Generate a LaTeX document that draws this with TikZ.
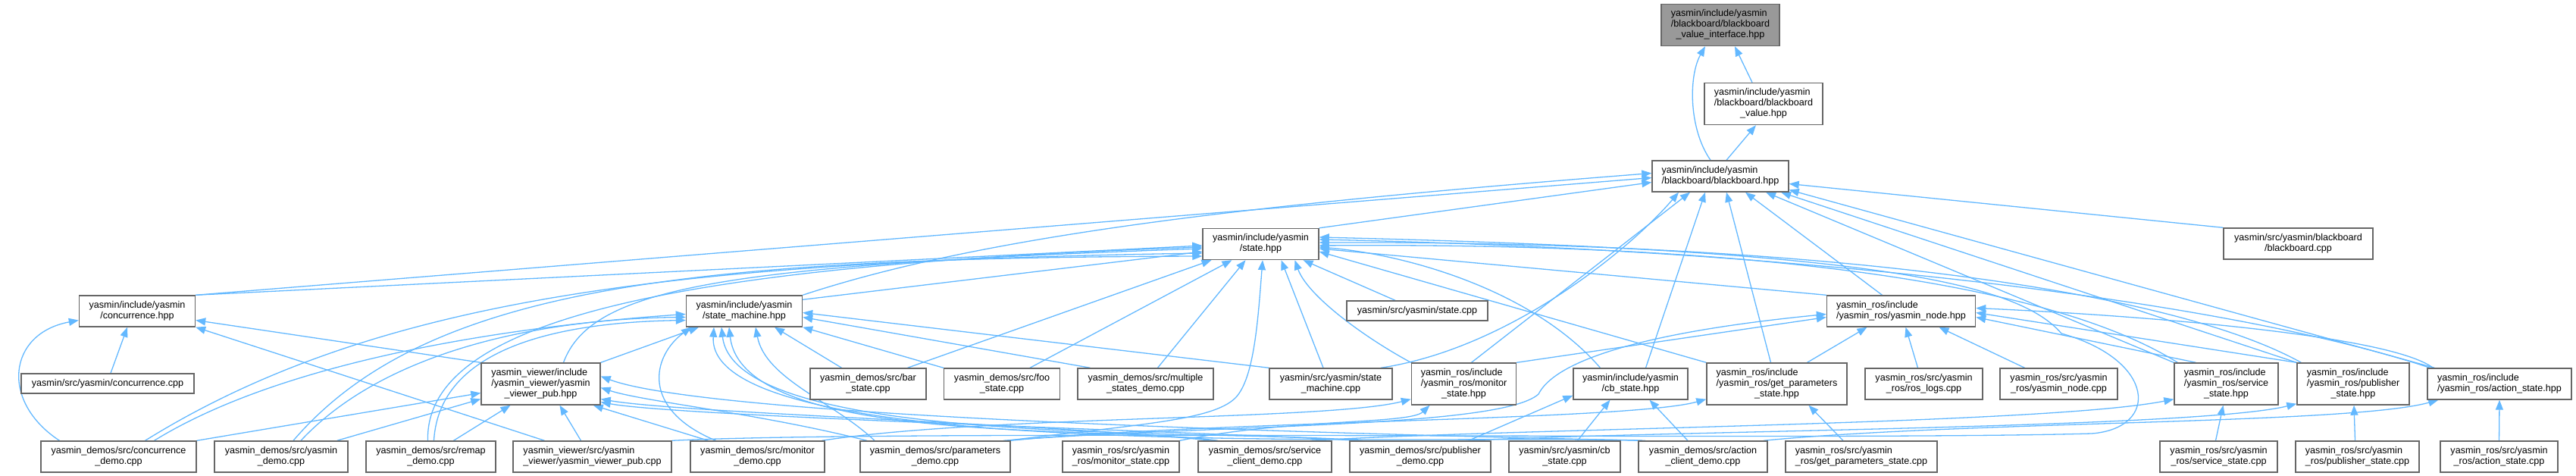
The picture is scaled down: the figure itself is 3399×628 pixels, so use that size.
\documentclass[tikz,border=0pt]{standalone}
\usepackage{fontspec}
\usetikzlibrary{arrows.meta}
\newfontfamily\lbfont{Liberation Sans}
\definecolor{edgec}{HTML}{63B8FF}
\definecolor{bord}{HTML}{666666}
\definecolor{rootf}{HTML}{999999}
\pgfdeclarelayer{bg}
\pgfsetlayers{bg,main}
\newcommand\Lb[2]{\begin{tabular}{@{}l@{}}#1\\\multicolumn{1}{@{}c@{}}{#2}\end{tabular}}
\newcommand\Lc[3]{\begin{tabular}{@{}l@{}}#1\\#2\\\multicolumn{1}{@{}c@{}}{#3}\end{tabular}}
\begin{document}
\begin{tikzpicture}[x=1pt,y=1pt,
  nd/.style={draw=bord, fill=white, line width=1.4pt, inner sep=0pt, font=\lbfont\fontsize{12.6}{14}\selectfont},
  h1/.style={minimum height=26pt},
  h2/.style={minimum height=41pt},
  h3/.style={minimum height=55pt},
  e/.style={draw=edgec, line width=1.3pt, -{Triangle[length=13pt,width=10pt]}}]
\useasboundingbox (0,0) rectangle (3399,-628);
% rank 0-3
\node[nd,h3,fill=rootf,minimum width=156pt] (A) at (2270,-33) {\Lc{yasmin/include/yasmin}{/blackboard/blackboard}{\_value\_interface.hpp}};
\node[nd,h3,minimum width=156pt] (B) at (2327,-137) {\Lc{yasmin/include/yasmin}{/blackboard/blackboard}{\_value.hpp}};
\node[nd,h2,minimum width=180pt] (C) at (2270,-232.5) {\Lb{yasmin/include/yasmin}{/blackboard/blackboard.hpp}};
\node[nd,h2,minimum width=153pt] (D) at (1663.5,-322) {\Lb{yasmin/include/yasmin}{/state.hpp}};
\node[nd,h2,minimum width=197pt] (E) at (3032.5,-321.5) {\Lb{yasmin/src/yasmin/blackboard}{/blackboard.cpp}};
% rank 4
\node[nd,h2,minimum width=153pt] (F) at (181,-410.5) {\Lb{yasmin/include/yasmin}{/concurrence.hpp}};
\node[nd,h2,minimum width=153pt] (G) at (982,-410.5) {\Lb{yasmin/include/yasmin}{/state\_machine.hpp}};
\node[nd,h1,minimum width=186pt] (H) at (1870,-410) {yasmin/src/yasmin/state.cpp};
\node[nd,h2,minimum width=196pt] (I) at (2508.5,-410.5) {\Lb{yasmin\_ros/include}{/yasmin\_ros/yasmin\_node.hpp}};
% rank 5
\node[nd,h1,minimum width=228pt] (J) at (142,-506) {yasmin/src/yasmin/concurrence.cpp};
\node[nd,h3,minimum width=157pt] (K) at (713.5,-506.5) {\Lc{yasmin\_viewer/include}{/yasmin\_viewer/yasmin}{\_viewer\_pub.hpp}};
\node[nd,h2,minimum width=153pt] (L) at (1145.5,-506.5) {\Lb{yasmin\_demos/src/bar}{\_state.cpp}};
\node[nd,h2,minimum width=153pt] (M) at (1322,-506.5) {\Lb{yasmin\_demos/src/foo}{\_state.cpp}};
\node[nd,h2,minimum width=179pt] (N) at (1511.5,-506.5) {\Lb{yasmin\_demos/src/multiple}{\_states\_demo.cpp}};
\node[nd,h2,minimum width=162pt] (O) at (1756,-506.5) {\Lb{yasmin/src/yasmin/state}{\_machine.cpp}};
\node[nd,h3,minimum width=138pt] (P) at (1931.5,-506.5) {\Lc{yasmin\_ros/include}{/yasmin\_ros/monitor}{\_state.hpp}};
\node[nd,h2,minimum width=151pt] (Q) at (2151.5,-506.5) {\Lb{yasmin/include/yasmin}{/cb\_state.hpp}};
\node[nd,h3,minimum width=185pt] (R) at (2344.5,-506.5) {\Lc{yasmin\_ros/include}{/yasmin\_ros/get\_parameters}{\_state.hpp}};
\node[nd,h2,minimum width=155pt] (S) at (2538.5,-506.5) {\Lb{yasmin\_ros/src/yasmin}{\_ros/ros\_logs.cpp}};
\node[nd,h2,minimum width=155pt] (T) at (2716.5,-506.5) {\Lb{yasmin\_ros/src/yasmin}{\_ros/yasmin\_node.cpp}};
\node[nd,h3,minimum width=137pt] (U) at (2937.5,-506.5) {\Lc{yasmin\_ros/include}{/yasmin\_ros/service}{\_state.hpp}};
\node[nd,h3,minimum width=148pt] (V) at (3105,-506.5) {\Lc{yasmin\_ros/include}{/yasmin\_ros/publisher}{\_state.hpp}};
\node[nd,h2,minimum width=190pt] (W) at (3298,-506.5) {\Lb{yasmin\_ros/include}{/yasmin\_ros/action\_state.hpp}};
% rank 6
\node[nd,h2,minimum width=205pt] (b1) at (156.5,-602.5) {\Lb{yasmin\_demos/src/concurrence}{\_demo.cpp}};
\node[nd,h2,minimum width=176pt] (b2) at (371,-602.5) {\Lb{yasmin\_demos/src/yasmin}{\_demo.cpp}};
\node[nd,h2,minimum width=171pt] (b3) at (568.5,-602.5) {\Lb{yasmin\_demos/src/remap}{\_demo.cpp}};
\node[nd,h2,minimum width=209pt] (b4) at (781.5,-602.5) {\Lb{yasmin\_viewer/src/yasmin}{\_viewer/yasmin\_viewer\_pub.cpp}};
\node[nd,h2,minimum width=177pt] (b5) at (999.5,-602.5) {\Lb{yasmin\_demos/src/monitor}{\_demo.cpp}};
\node[nd,h2,minimum width=198pt] (b6) at (1234,-602.5) {\Lb{yasmin\_demos/src/parameters}{\_demo.cpp}};
\node[nd,h2,minimum width=154pt] (b7) at (1479,-602.5) {\Lb{yasmin\_ros/src/yasmin}{\_ros/monitor\_state.cpp}};
\node[nd,h2,minimum width=176pt] (b8) at (1669,-602.5) {\Lb{yasmin\_demos/src/service}{\_client\_demo.cpp}};
\node[nd,h2,minimum width=186pt] (b9) at (1874,-602.5) {\Lb{yasmin\_demos/src/publisher}{\_demo.cpp}};
\node[nd,h2,minimum width=147pt] (b10) at (2064.5,-602.5) {\Lb{yasmin/src/yasmin/cb}{\_state.cpp}};
\node[nd,h2,minimum width=170pt] (b11) at (2247,-602.5) {\Lb{yasmin\_demos/src/action}{\_client\_demo.cpp}};
\node[nd,h2,minimum width=200pt] (b12) at (2456,-602.5) {\Lb{yasmin\_ros/src/yasmin}{\_ros/get\_parameters\_state.cpp}};
\node[nd,h2,minimum width=155pt] (b13) at (2927.5,-602.5) {\Lb{yasmin\_ros/src/yasmin}{\_ros/service\_state.cpp}};
\node[nd,h2,minimum width=163pt] (b14) at (3110.5,-602.5) {\Lb{yasmin\_ros/src/yasmin}{\_ros/publisher\_state.cpp}};
\node[nd,h2,minimum width=155pt] (b15) at (3297.5,-602.5) {\Lb{yasmin\_ros/src/yasmin}{\_ros/action\_state.cpp}};

\begin{pgfonlayer}{bg}
% top part
\draw[e] ([xshift=-15pt]B.north) -- ([xshift=19pt]A.south);
\draw[e] ([xshift=-13pt]C.north) .. controls (2228,-170) and (2228,-100) .. ([xshift=-20pt]A.south);
\draw[e] ([xshift=8pt]C.north) -- ([xshift=-10pt]B.south);
\draw[e] (D.north east) -- ([yshift=-8pt]C.west);
\draw[e] (E.north west) -- ([yshift=-10pt]C.east);
\draw[e] (F.north east) -- ([yshift=-2pt]C.west);
\draw[e] (F.north east) -- ([yshift=-2pt]D.west);
\draw[e] (G.north east) .. controls (1300,-310) and (1650,-270) .. ([yshift=4pt]C.west);
\draw[e] ([yshift=-6pt]G.north east) -- ([yshift=-10pt]D.west);
\draw[e] ([xshift=-29pt]H.north) -- ([xshift=56pt]D.south);
\draw[e] ([xshift=-25pt]I.north) -- ([xshift=33pt]C.south);
\draw[e] (I.north west) -- ([yshift=-6pt]D.east);
\draw[e] ([xshift=4pt]J.north) -- ([xshift=-13pt]F.south);
\draw[e] (K.north west) -- ([yshift=-12pt]F.east);
\draw[e] ([xshift=30pt]K.north) .. controls (780,-380) and (950,-350) .. ([yshift=-6pt]D.west);
\draw[e] (K.north east) -- ([xshift=-60pt]G.south);
\draw[e] ([xshift=-35pt]L.north) -- ([xshift=40pt]G.south);
\draw[e] ([xshift=52pt]L.north) -- ([xshift=-65pt]D.south);
\draw[e] (M.north west) -- (G.south east);
\draw[e] ([xshift=37pt]M.north) -- ([xshift=-38pt]D.south);
\draw[e] ([xshift=-73pt]N.north) -- ([yshift=-8pt]G.east);
\draw[e] ([xshift=16pt]N.north) -- ([xshift=-20pt]D.south);
\draw[e] (O.north west) -- ([yshift=-2pt]G.east);
\draw[e] ([xshift=-10pt]O.north) -- ([xshift=27pt]D.south);
\draw[e] ([xshift=66pt]O.north) .. controls (1990,-460) and (2150,-330) .. ([xshift=-55pt]C.south);
\draw[e] ([xshift=10pt]P.north) -- ([xshift=-40pt]C.south);
\draw[e] (P.north west) .. controls (1800,-445) and (1725,-390) .. ([xshift=45pt]D.south);
\draw[e] (P.north east) -- ([yshift=-8pt]I.west);
\draw[e] ([xshift=20pt]Q.north) -- ([xshift=-20pt]C.south);
\draw[e] ([xshift=-40pt]Q.north) .. controls (2020,-380) and (1850,-335) .. ([yshift=-4pt]D.east);
\draw[e] ([xshift=-8pt]R.north) -- ([xshift=8pt]C.south);
\draw[e] (R.north west) -- ([yshift=-10pt]D.east);
\draw[e] ([xshift=40pt]R.north) -- ([xshift=-45pt]I.south);
\draw[e] ([xshift=-8pt]S.north) -- ([xshift=6pt]I.south);
\draw[e] ([xshift=-45pt]T.north) -- ([xshift=50pt]I.south);
\draw[e] (U.north west) -- ([xshift=60pt]C.south);
\draw[e] ([xshift=5pt]U.north west) .. controls (2700,-370) and (2300,-320) .. ([yshift=-2pt]D.east);
\draw[e] ([xshift=-40pt]U.north) -- ([yshift=-8pt]I.east);
\draw[e] (V.north west) -- ([xshift=80pt]C.south);
\draw[e] ([xshift=6pt]V.north west) .. controls (2850,-375) and (2350,-318) .. ([yshift=2pt]D.east);
\draw[e] (V.north west) -- ([yshift=-2pt]I.east);
\draw[e] ([xshift=10pt]W.north west) -- ([yshift=-18pt]C.east);
\draw[e] ([xshift=4pt]W.north west) .. controls (2950,-400) and (2400,-330) .. ([yshift=6pt]D.east);
\draw[e] ([xshift=8pt]W.north west) .. controls (3150,-440) and (2800,-415) .. ([yshift=4pt]I.east);
% bottom left
\draw[e] ([xshift=-78pt]b1.north) .. controls (0,-530) and (10,-440) .. ([yshift=-12pt]F.west);
\draw[e] ([xshift=35pt]b1.north) .. controls (500,-390) and (900,-345) .. ([yshift=-12pt]D.west);
\draw[e] ([xshift=47pt]b1.north) .. controls (400,-460) and (750,-425) .. ([yshift=-4pt]G.west);
\draw[e] (b1.north east) -- ([yshift=-12pt]K.west);
\draw[e] ([xshift=16pt]b2.north) .. controls (560,-380) and (900,-340) .. ([yshift=-16pt]D.west);
\draw[e] ([xshift=26pt]b2.north) .. controls (520,-450) and (750,-420) .. ([yshift=-8pt]G.west);
\draw[e] ([xshift=-15pt]b2.north east) -- ([yshift=-20pt]K.west);
\draw[e] ([xshift=-4pt]b3.north) .. controls (560,-420) and (900,-350) .. ([yshift=-4pt]D.west);
\draw[e] ([xshift=4pt]b3.north) .. controls (580,-450) and (760,-425) .. ([yshift=-12pt]G.west);
\draw[e] ([xshift=30pt]b3.north) -- ([xshift=-40pt]K.south);
\draw[e] ([xshift=-63pt]b4.north) -- (F.south east);
\draw[e] ([xshift=-15pt]b4.north) -- ([xshift=25pt]K.south);
\draw[e] (b4.north east) .. controls (1200,-566) and (2400,-582) .. (2760,-572)
  .. controls (2850,-565) and (2845,-475) .. (2720,-440)
  .. controls (2660,-370) and (2450,-330) .. ([yshift=9pt]D.east);
% b5
\draw[e] ([xshift=-65pt]b5.north) -- ([xshift=-10pt]K.south east);
\draw[e] ([xshift=-55pt]b5.north) .. controls (845,-540) and (860,-470) .. ([xshift=-70pt]G.south);
\draw[e] ([xshift=85pt]b5.north) .. controls (1300,-548) and (1750,-555) .. ([yshift=8pt]P.south west);
% b6
\draw[e] ([xshift=-90pt]b6.north) .. controls (1000,-545) and (850,-530) .. ([yshift=-5pt]K.east);
\draw[e] ([xshift=-80pt]b6.north) .. controls (1100,-530) and (1010,-500) .. ([xshift=15pt]G.south);
\draw[e] ([xshift=95pt]b6.north) .. controls (1500,-560) and (1600,-555) .. (1630,-525)
  .. controls (1655,-500) and (1660,-420) .. ([xshift=2.5pt]D.south);
\draw[e] ([xshift=99pt]b6.north) .. controls (1600,-555) and (2150,-555) .. ([yshift=8pt]R.south west);
\draw[e] ([xshift=90pt]b6.north) .. controls (1600,-560) and (1980,-565) .. (2030,-520)
  .. controls (2050,-480) and (2150,-440) .. ([yshift=-4pt]I.west);
% b7
\draw[e] (b7.north east) .. controls (1700,-552) and (1860,-560) .. ([xshift=-45pt]P.south);
% b8
\draw[e] ([xshift=-70pt]b8.north) .. controls (1400,-560) and (900,-545) .. ([yshift=-20pt]K.east);
\draw[e] ([xshift=-62pt]b8.north) .. controls (1450,-560) and (980,-590) .. ([xshift=-20pt]G.south);
\draw[e] ([xshift=60pt]b8.north) .. controls (2000,-565) and (2700,-560) .. ([yshift=8pt]U.south west);
% b9
\draw[e] ([xshift=-82pt]b9.north) .. controls (1600,-570) and (900,-550) .. ([yshift=-24pt]K.east);
\draw[e] ([xshift=-76pt]b9.north) .. controls (1600,-565) and (970,-592) .. ([xshift=-30pt]G.south);
\draw[e] ([xshift=60pt]b9.north) .. controls (2200,-568) and (2900,-565) .. ([yshift=2pt]V.south west);
\draw[e] ([xshift=-30pt]b9.north east) -- ([yshift=6pt]Q.south west);
% b10
\draw[e] ([xshift=17pt]b10.north) -- ([xshift=-27pt]Q.south);
% b11
\draw[e] ([xshift=-80pt]b11.north) .. controls (1900,-575) and (950,-555) .. ([yshift=10pt]K.east);
\draw[e] ([xshift=-76pt]b11.north) .. controls (1900,-572) and (930,-615) .. ([xshift=-40pt]G.south);
\draw[e] ([xshift=80pt]b11.north) .. controls (2600,-555) and (3100,-560) .. ([xshift=15pt]W.south west);
\draw[e] ([xshift=-20pt]b11.north) -- ([xshift=25pt]Q.south);
% others
\draw[e] ([xshift=-24pt]b12.north) -- ([xshift=42pt]R.south);
\draw[e] ([xshift=-4pt]b13.north) -- ([xshift=-4pt]U.south);
\draw[e] ([xshift=-3pt]b14.north) -- ([xshift=1pt]V.south);
\draw[e] (b15.north) -- (W.south);
\end{pgfonlayer}
\end{tikzpicture}
\end{document}
